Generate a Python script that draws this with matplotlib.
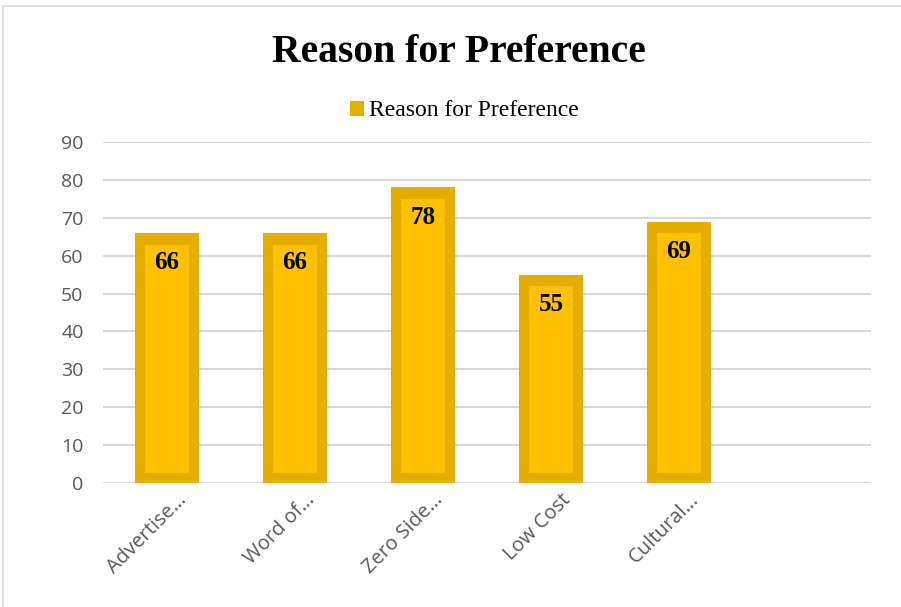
import matplotlib.pyplot as plt
import matplotlib.transforms as mtransforms
from matplotlib.patches import Rectangle
import numpy as np

categories = ["Advertise…", "Word of…", "Zero Side…", "Low Cost", "Cultural…", ""]
values = [66, 66, 78, 55, 69, np.nan]
series_name = "Reason for Preference"

outer_color = "#E5AD00"
inner_color = "#FFC000"
grid_color = "#D9D9D9"
tick_color = "#595959"

fig = plt.figure(figsize=(9.01, 6.07), dpi=100)
ax = fig.add_axes([103 / 901, 1 - 483 / 607, 768 / 901, 341 / 607])

x = np.arange(len(categories))
vals = np.array(values, dtype=float)

# outer bar acts as the darker frame, inner bar is the lighter fill
ax.bar(x, vals, width=0.5, color=outer_color, zorder=2, label=series_name)
inset = 2.6
ax.bar(x, vals - 2 * inset - 0.5, width=0.5 - 2 * 10 / 128, bottom=inset,
       color=inner_color, zorder=3)

for xi, v in zip(x, vals):
    if np.isnan(v):
        continue
    ax.annotate(f"{v:.0f}", (xi, v), xytext=(0, -21.5), textcoords="offset points",
                ha="center", va="center", fontsize=18, fontweight="bold",
                family="Liberation Serif", color="black", zorder=4)

ax.set_xlim(-0.5, len(categories) - 0.5)
ax.set_ylim(0, 90)
ax.set_yticks(range(0, 91, 10))
ax.yaxis.grid(True, color=grid_color, linewidth=1.5, zorder=0)
ax.set_axisbelow(True)
for s in ax.spines.values():
    s.set_visible(False)
ax.tick_params(axis="both", length=0, colors=tick_color, labelsize=14)
ax.tick_params(axis="y", pad=14)
for lbl in ax.get_yticklabels():
    lbl.set_family("Open Sans")

ax.set_xticks(x)
ax.set_xticklabels(categories, rotation=45, ha="right", rotation_mode="anchor",
                   family="Open Sans", fontsize=14.5, color=tick_color)
offset = mtransforms.ScaledTranslation(10 / 100, -2 / 100, fig.dpi_scale_trans)
for lbl in ax.get_xticklabels():
    lbl.set_transform(lbl.get_transform() + offset)

fig.text(459 / 901, 1 - 52 / 607, "Reason for Preference", ha="center", va="center",
         fontsize=28.5, fontweight="bold", family="Liberation Serif")

leg = ax.legend(loc="center", bbox_to_anchor=(464 / 901, 1 - 111 / 607),
                bbox_transform=fig.transFigure, frameon=False,
                prop={"family": "Liberation Serif", "size": 17},
                handlelength=0.6, handleheight=0.6, handletextpad=0.2)

# light frame around the chart area
fig.patches.append(Rectangle((3 / 901, -0.05), 1.05, 1.05 - 6 / 607,
                             transform=fig.transFigure, fill=False,
                             edgecolor="#D9D9D9", linewidth=1.2))

fig.savefig("out.png", dpi=100)
